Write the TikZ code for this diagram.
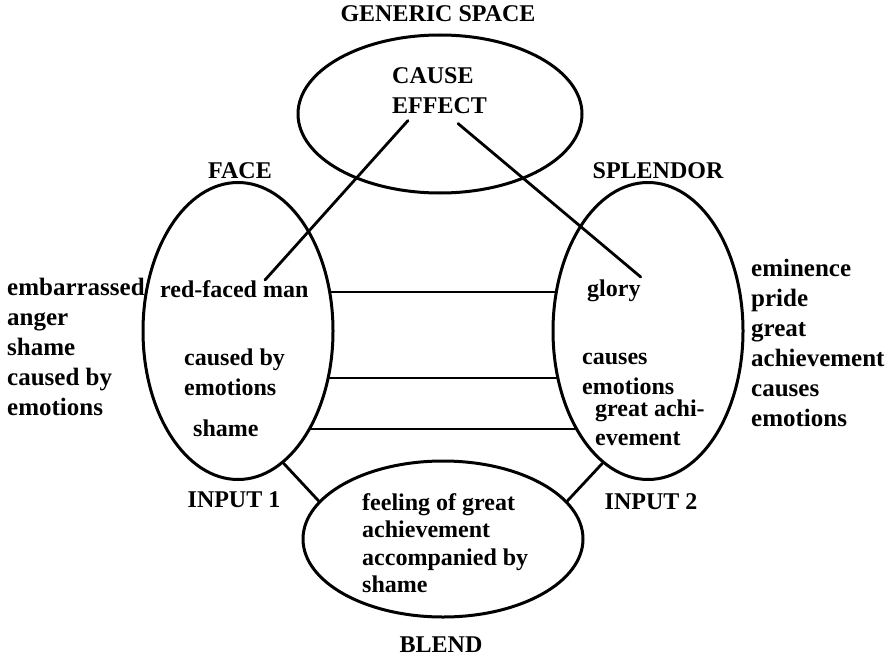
\documentclass[tikz,border=0pt]{standalone}
\usepackage{fontspec}
\setmainfont{Liberation Serif}[BoldFont={Liberation Serif Bold}]
\newfontfamily\diafont{Liberation Serif}[BoldFont={Liberation Serif Bold}]
\usetikzlibrary{shapes.geometric,calc}
\tikzset{
  space/.style={ellipse, draw, line width=3pt, inner sep=0pt, minimum width=#1},
  txt/.style={font=\diafont\bfseries\fontsize{24}{30}\selectfont, inner sep=0pt, align=left, anchor=north west},
  side/.style={txt, font=\diafont\bfseries\fontsize{25}{30}\selectfont},
  lab/.style={font=\diafont\bfseries\fontsize{24}{30}\selectfont, inner sep=0pt, anchor=base},
  link/.style={line width=2.8pt, line cap=round},
}

\begin{document}
\begin{tikzpicture}[x=1pt, y=-1pt]
    \useasboundingbox (0,0) rectangle (888,658);
    % the four spaces
    \node[space=284, minimum height=158] (gen) at (440,114) {};
    \node[space=190, minimum height=297] (inA) at (238,331) {};
    \node[space=190, minimum height=297] (inB) at (648,331) {};
    \node[space=280, minimum height=156] (blend) at (443,539) {};
    % labels
    \node[lab] (genlab) at (438,22) {GENERIC SPACE};
    \node[lab] (face) at (240,178) {FACE};
    \node[lab] (splendor) at (658,178) {SPLENDOR};
    \node[lab] (inAlab) at (234,507) {INPUT 1};
    \node[lab] (inBlab) at (651,509) {INPUT 2};
    \node[lab] (blendlab) at (441,652) {BLEND};
    % texts
    \node[txt] (cause) at (392,67) {CAUSE\\EFFECT};
    \node[side] (listA) at (7,278) {embarrassed\\anger\\shame\\caused by\\emotions};
    \node[txt] (redman) at (160,280) {red-faced man};
    \node[txt] (causedby) at (184,349) {caused by\\emotions};
    \node[txt] (shameA) at (193,420) {shame};
    \node[txt] (glory) at (587,280) {glory};
    \node[txt] (causes) at (582,353) {causes\\emotions};
    \node[txt, font=\diafont\bfseries\fontsize{24}{29}\selectfont] (greatach) at (595,400) {great achi-\\evement};
    \node[side] (listB) at (751,259) {eminence\\pride\\great\\achievement\\causes\\emotions};
    \node[txt, font=\diafont\bfseries\fontsize{24}{27.5}\selectfont] (blendtxt) at (362,493) {feeling of great\\achievement\\accompanied by\\shame};
    % connectors
    \draw[link] ([shift={(16,7)}]cause.south west) -- ([shift={(105,0)}]redman.north west);
    \draw[link] ([shift={(66,10)}]cause.south west) -- ([shift={(0,-3)}]glory.north east);
    \draw[link] ([shift={(91.7,-39)}]inA.center) -- ([shift={(-91.7,-39)}]inB.center);
    \draw[link] ([shift={(90.1,47)}]inA.center) -- ([shift={(-90.1,47)}]inB.center);
    \draw[link] ([shift={(71.4,98)}]inA.center) -- ([shift={(-71.4,98)}]inB.center);
    \draw[link] (inA.-71) -- (blend.163);
    \draw[link] (inB.-109) -- (blend.17);
\end{tikzpicture}
\end{document}
